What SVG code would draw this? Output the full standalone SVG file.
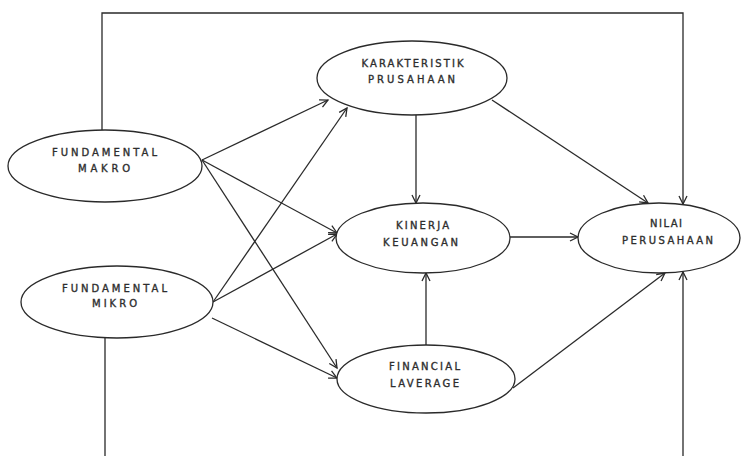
<svg xmlns="http://www.w3.org/2000/svg" width="743" height="456" viewBox="0 0 743 456">
<style>
.node{fill:#fff;stroke:#2a2a2a;stroke-width:1.3}
.lbl{font-family:"DejaVu Sans","Liberation Sans",sans-serif;font-size:10px;fill:#2e2e2e;stroke:#2e2e2e;stroke-width:0.35;text-anchor:middle}
.edge{fill:none;stroke:#2a2a2a;stroke-width:1.3}
</style>
<defs>
<marker id="arr" markerUnits="userSpaceOnUse" markerWidth="12" markerHeight="12" viewBox="-10 -6 12 12" refX="0" refY="0" orient="auto">
<path d="M-8,-4 L0,0 L-8,4" fill="none" stroke="#2a2a2a" stroke-width="1.3"/>
</marker>
</defs>
<rect width="743" height="456" fill="#fff"/>
<g id="connectors">
<path class="edge" d="M102,130 V13 H683 V204" marker-end="url(#arr)"/>
<path class="edge" d="M105,338 V470 H683 V272" marker-end="url(#arr)"/>
<line class="edge" x1="202" y1="160" x2="328" y2="100" marker-end="url(#arr)"/>
<line class="edge" x1="202" y1="160" x2="337" y2="233" marker-end="url(#arr)"/>
<line class="edge" x1="202" y1="160" x2="337" y2="368" marker-end="url(#arr)"/>
<line class="edge" x1="213" y1="302" x2="347" y2="108" marker-end="url(#arr)"/>
<line class="edge" x1="213" y1="302" x2="337" y2="234" marker-end="url(#arr)"/>
<line class="edge" x1="212" y1="318" x2="337" y2="378" marker-end="url(#arr)"/>
<line class="edge" x1="416" y1="115" x2="416" y2="203" marker-end="url(#arr)"/>
<line class="edge" x1="426" y1="345" x2="426" y2="273" marker-end="url(#arr)"/>
<line class="edge" x1="492" y1="100" x2="648" y2="203" marker-end="url(#arr)"/>
<line class="edge" x1="510" y1="237" x2="578" y2="237" marker-end="url(#arr)"/>
<line class="edge" x1="513" y1="388" x2="665" y2="273" marker-end="url(#arr)"/>
</g>
<g id="fundamental-makro">
<ellipse class="node" cx="105" cy="166" rx="97" ry="36"/>
<text class="lbl" x="104.5" y="156" textLength="105" lengthAdjust="spacing">FUNDAMENTAL</text>
<text class="lbl" x="104" y="172" textLength="52" lengthAdjust="spacing">MAKRO</text>
</g>
<g id="fundamental-mikro">
<ellipse class="node" cx="117" cy="302" rx="96" ry="36"/>
<text class="lbl" x="114.5" y="292" textLength="105" lengthAdjust="spacing">FUNDAMENTAL</text>
<text class="lbl" x="114.5" y="307" textLength="45" lengthAdjust="spacing">MIKRO</text>
</g>
<g id="karakteristik-prusahaan">
<ellipse class="node" cx="412" cy="78" rx="95" ry="37"/>
<text class="lbl" x="412.5" y="67" textLength="102" lengthAdjust="spacing">KARAKTERISTIK</text>
<text class="lbl" x="411.5" y="83" textLength="87" lengthAdjust="spacing">PRUSAHAAN</text>
</g>
<g id="kinerja-keuangan">
<ellipse class="node" cx="423" cy="238" rx="87" ry="35"/>
<text class="lbl" x="422.5" y="229" textLength="53" lengthAdjust="spacing">KINERJA</text>
<text class="lbl" x="420.5" y="246" textLength="75" lengthAdjust="spacing">KEUANGAN</text>
</g>
<g id="financial-laverage">
<ellipse class="node" cx="426" cy="379" rx="89" ry="34"/>
<text class="lbl" x="424.5" y="370" textLength="71" lengthAdjust="spacing">FINANCIAL</text>
<text class="lbl" x="424.5" y="387" textLength="69" lengthAdjust="spacing">LAVERAGE</text>
</g>
<g id="nilai-perusahaan">
<ellipse class="node" cx="659" cy="238" rx="81" ry="35"/>
<text class="lbl" x="666" y="227" textLength="32" lengthAdjust="spacing">NILAI</text>
<text class="lbl" x="667.5" y="244" textLength="91" lengthAdjust="spacing">PERUSAHAAN</text>
</g>
</svg>
